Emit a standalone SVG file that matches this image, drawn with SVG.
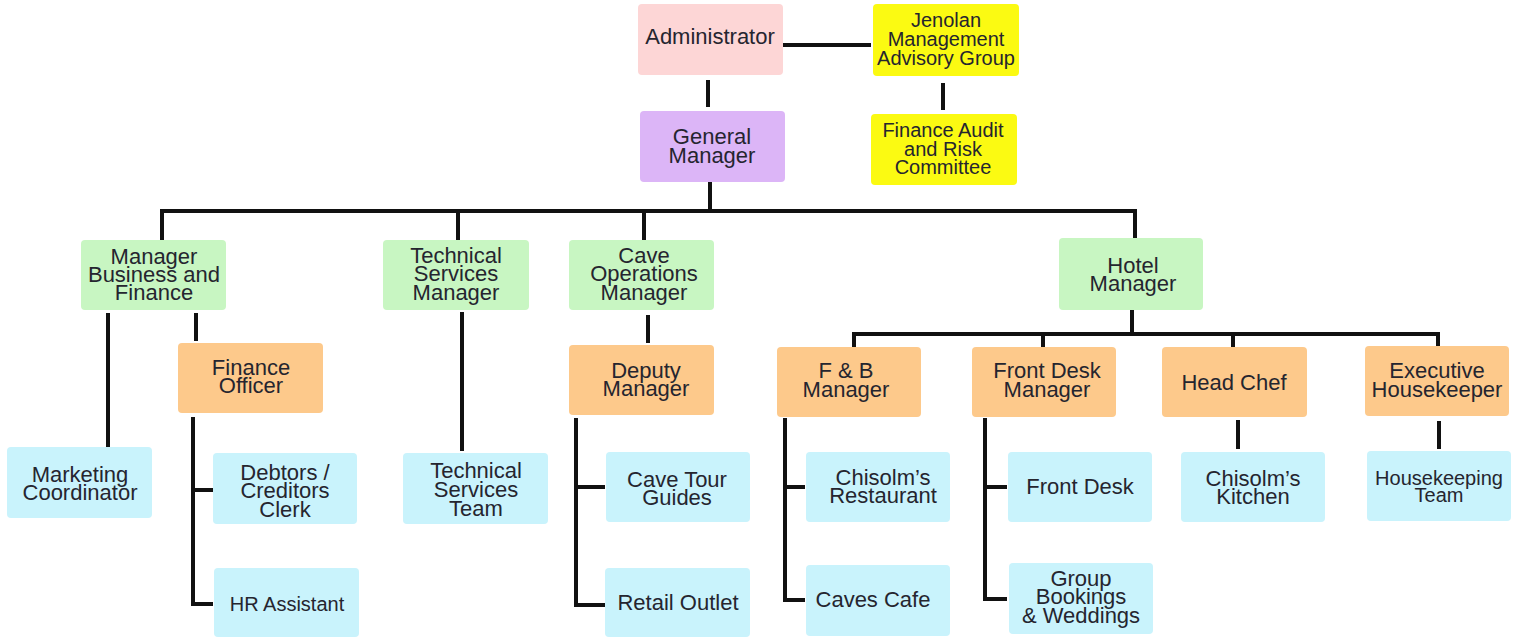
<svg xmlns="http://www.w3.org/2000/svg" width="1522" height="638" viewBox="0 0 1522 638">
<style>
text{font-family:"Liberation Sans",Arial,sans-serif;font-size:22px;text-anchor:middle;fill:#25252f}
.s{font-size:20px}
.pink{fill:#fdd6d6}
.yel{fill:#fbfa12}
.pur{fill:#dcb5f7}
.grn{fill:#c8f6c2}
.org{fill:#fdc98b}
.blu{fill:#c9f3fc}
#connectors path{fill:none;stroke:#111;stroke-width:4;stroke-linecap:butt;stroke-linejoin:miter}
</style>
<rect width="1522" height="638" fill="#fff"/>
<g id="connectors">
<path d="M783 45H871"/>
<path d="M708 80V107"/>
<path d="M943 83V110"/>
<path d="M710 182V211"/>
<path d="M162 240V211H1135V239"/>
<path d="M458 211V240"/>
<path d="M644 211V240"/>
<path d="M108 313V447"/>
<path d="M196 313V341"/>
<path d="M462 312V451"/>
<path d="M648 315V343"/>
<path d="M213 490H193M193 417V604H213"/>
<path d="M605 487H576M576 418V605H605"/>
<path d="M1132 310V334"/>
<path d="M854 347V334H1438V346"/>
<path d="M1043 334V347"/>
<path d="M1233 334V347"/>
<path d="M805 487H785M785 418V600H805"/>
<path d="M1007 487H985M985 418V599H1007"/>
<path d="M1238 420V449"/>
<path d="M1439 421V449"/>
</g>
<g id="administrator"><rect class="pink" x="638" y="4" width="145" height="71" rx="4"/><text x="710" y="44">Administrator</text></g>
<g id="jenolan"><rect class="yel" x="873" y="4" width="146" height="72" rx="4"/><text class="s" x="946"><tspan x="946" y="27">Jenolan</tspan><tspan x="946" y="46">Management</tspan><tspan x="946" y="65">Advisory Group</tspan></text></g>
<g id="general-manager"><rect class="pur" x="640" y="111" width="145" height="71" rx="4"/><text x="712"><tspan x="712" y="144">General</tspan><tspan x="712" y="163">Manager</tspan></text></g>
<g id="finance-audit"><rect class="yel" x="871" y="114" width="146" height="71" rx="4"/><text class="s" x="943"><tspan x="943" y="137">Finance Audit</tspan><tspan x="943" y="155.5">and Risk</tspan><tspan x="943" y="174">Committee</tspan></text></g>
<g id="manager-business-finance"><rect class="grn" x="81" y="240" width="145" height="70" rx="4"/><text x="154"><tspan x="154" y="264">Manager</tspan><tspan x="154" y="282">Business and</tspan><tspan x="154" y="300">Finance</tspan></text></g>
<g id="technical-services-manager"><rect class="grn" x="383" y="240" width="146" height="70" rx="4"/><text x="456"><tspan x="456" y="263">Technical</tspan><tspan x="456" y="281">Services</tspan><tspan x="456" y="300">Manager</tspan></text></g>
<g id="cave-operations-manager"><rect class="grn" x="569" y="240" width="145" height="70" rx="4"/><text x="644"><tspan x="644" y="263">Cave</tspan><tspan x="644" y="281">Operations</tspan><tspan x="644" y="300">Manager</tspan></text></g>
<g id="hotel-manager"><rect class="grn" x="1059" y="238" width="144" height="72" rx="4"/><text x="1133"><tspan x="1133" y="273">Hotel</tspan><tspan x="1133" y="291">Manager</tspan></text></g>
<g id="marketing-coordinator"><rect class="blu" x="7" y="447" width="145" height="71" rx="4"/><text x="80"><tspan x="80" y="482">Marketing</tspan><tspan x="80" y="500">Coordinator</tspan></text></g>
<g id="finance-officer"><rect class="org" x="178" y="343" width="145" height="70" rx="4"/><text x="251"><tspan x="251" y="375">Finance</tspan><tspan x="251" y="393">Officer</tspan></text></g>
<g id="debtors-creditors-clerk"><rect class="blu" x="213" y="453" width="144" height="71" rx="4"/><text x="285"><tspan x="285" y="480">Debtors /</tspan><tspan x="285" y="498">Creditors</tspan><tspan x="285" y="517">Clerk</tspan></text></g>
<g id="hr-assistant"><rect class="blu" x="214" y="568" width="145" height="69" rx="4"/><text class="s" x="287" y="611">HR Assistant</text></g>
<g id="technical-services-team"><rect class="blu" x="403" y="453" width="145" height="71" rx="4"/><text x="476"><tspan x="476" y="478">Technical</tspan><tspan x="476" y="497">Services</tspan><tspan x="476" y="516">Team</tspan></text></g>
<g id="deputy-manager"><rect class="org" x="569" y="345" width="145" height="70" rx="4"/><text x="646"><tspan x="646" y="378">Deputy</tspan><tspan x="646" y="396">Manager</tspan></text></g>
<g id="cave-tour-guides"><rect class="blu" x="606" y="452" width="144" height="70" rx="4"/><text x="677"><tspan x="677" y="487">Cave Tour</tspan><tspan x="677" y="505">Guides</tspan></text></g>
<g id="retail-outlet"><rect class="blu" x="605" y="568" width="145" height="69" rx="4"/><text x="678" y="610">Retail Outlet</text></g>
<g id="fb-manager"><rect class="org" x="777" y="347" width="144" height="70" rx="4"/><text x="846"><tspan x="846" y="378">F &amp; B</tspan><tspan x="846" y="397">Manager</tspan></text></g>
<g id="front-desk-manager"><rect class="org" x="972" y="347" width="144" height="70" rx="4"/><text x="1047"><tspan x="1047" y="378">Front Desk</tspan><tspan x="1047" y="397">Manager</tspan></text></g>
<g id="head-chef"><rect class="org" x="1162" y="347" width="145" height="70" rx="4"/><text x="1234" y="390">Head Chef</text></g>
<g id="executive-housekeeper"><rect class="org" x="1365" y="346" width="144" height="70" rx="4"/><text x="1437"><tspan x="1437" y="378">Executive</tspan><tspan x="1437" y="397">Housekeeper</tspan></text></g>
<g id="chisolms-restaurant"><rect class="blu" x="806" y="452" width="144" height="70" rx="4"/><text x="883"><tspan x="883" y="485">Chisolm’s</tspan><tspan x="883" y="503">Restaurant</tspan></text></g>
<g id="caves-cafe"><rect class="blu" x="806" y="565" width="144" height="71" rx="4"/><text x="873" y="607">Caves Cafe</text></g>
<g id="front-desk"><rect class="blu" x="1008" y="452" width="144" height="70" rx="4"/><text x="1080" y="494">Front Desk</text></g>
<g id="group-bookings-weddings"><rect class="blu" x="1009" y="563" width="144" height="71" rx="4"/><text x="1081"><tspan x="1081" y="586">Group</tspan><tspan x="1081" y="604">Bookings</tspan><tspan x="1081" y="623">&amp; Weddings</tspan></text></g>
<g id="chisolms-kitchen"><rect class="blu" x="1181" y="452" width="144" height="70" rx="4"/><text x="1253"><tspan x="1253" y="486">Chisolm’s</tspan><tspan x="1253" y="504">Kitchen</tspan></text></g>
<g id="housekeeping-team"><rect class="blu" x="1367" y="451" width="144" height="70" rx="4"/><text class="s" x="1439"><tspan x="1439" y="485">Housekeeping</tspan><tspan x="1439" y="502">Team</tspan></text></g>
</svg>
